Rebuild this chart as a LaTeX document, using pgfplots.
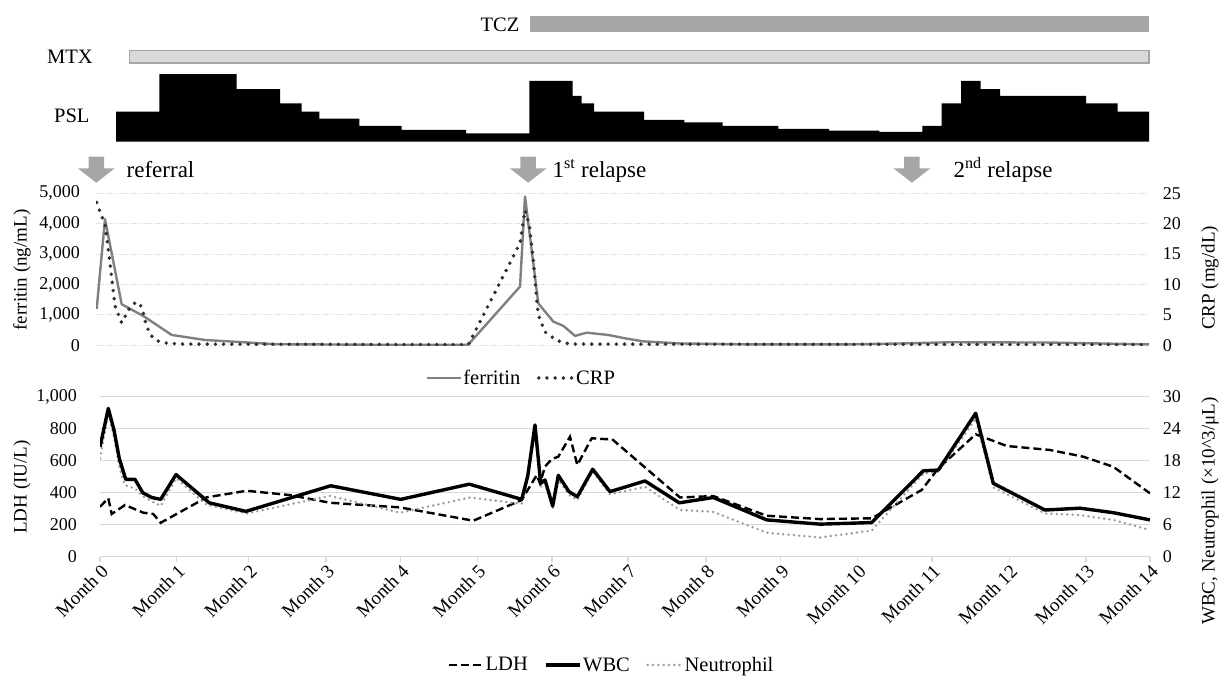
\documentclass[border=0pt]{standalone}
\usepackage{pgfplots}
\pgfplotsset{compat=1.18}
\usepackage{fontspec}
\setmainfont{Liberation Serif}
\definecolor{gridgray}{HTML}{D9D9D9}
\definecolor{tczgray}{HTML}{A6A6A6}
\definecolor{mtxfill}{HTML}{D9D9D9}
\definecolor{mtxdraw}{HTML}{A6A6A6}
\definecolor{arrowgray}{HTML}{A6A6A6}
\definecolor{ferrgray}{HTML}{808080}
\definecolor{crpdot}{HTML}{303030}
\definecolor{neugray}{HTML}{9A9A9A}
\newcommand\fs[1]{\fontsize{#1}{#1}\selectfont}
\tikzset{
 ldh/.style={black, line width=2.4pt, dash pattern=on 8pt off 4pt},
 wbc/.style={black, line width=3.4pt, line join=round},
 neu/.style={neugray, line width=2.7pt, line cap=round, dash pattern=on 0pt off 5.3pt},
 ferr/.style={ferrgray, line width=2.4pt, line join=round},
 crp/.style={crpdot, line width=3.9pt, line cap=round, dash pattern=on 0pt off 8.2pt},
}
\newcommand\garrow[1]{%
 \begin{scope}[shift={(#1pt,0pt)}]
 \fill[arrowgray] (-7.75pt,520.3pt) -- (7.75pt,520.3pt) -- (7.75pt,508.7pt) -- (18.5pt,508.7pt) -- (0pt,494.3pt) -- (-18.5pt,508.7pt) -- (-7.75pt,508.7pt) -- cycle;
 \end{scope}}
\pgfplotsset{
 myleg/.style={legend columns=-1,
  legend style={draw=none, fill=none, font=\fs{20.5}, nodes={inner sep=1.5pt},
   /tikz/every even column/.append style={column sep=15pt}},
  legend image code/.code={\draw[##1] (0pt,0pt) -- (34pt,0pt);}},
 /pgf/number format/assume math mode=true,
 /pgf/number format/1000 sep={,},
}
\begin{document}
\begin{tikzpicture}
\path[use as bounding box] (0pt,0pt) rectangle (1219pt,677pt);

% ---------- treatment bars ----------
\begin{axis}[at={(100pt,535.3pt)}, anchor=south west, scale only axis,
 width=1050pt, height=131.7pt, xmin=100, xmax=1150, ymin=0, ymax=87.8,
 hide axis, clip=false]
\addplot[draw=none, fill=tczgray] coordinates {(530,72.9) (1148.8,72.9) (1148.8,83.8) (530,83.8)} -- cycle;
\addplot[draw=mtxdraw, line width=1.5pt, fill=mtxfill] coordinates {(129.6,52.3) (1148.8,52.3) (1148.8,60.7) (129.6,60.7)} -- cycle;
\addplot[const plot, fill=black, draw=none] coordinates {
(116,0) (116,20) (159.3,45) (236.7,35) (280,25.5) (301.7,20) (319.3,15.3)
(359.3,10.5) (401.7,7.8) (466,5.5) (529.3,40.5) (572.7,30.5) (581.7,25.5)
(594,20) (644,14.5) (684.3,12.9) (722.7,10.5) (778.3,8.5) (829,7.3)
(879.3,6.5) (922.3,10.5) (941.7,25.5) (961,40.5) (980.7,35) (1000,30.5)
(1086,25.5) (1117.7,20) (1149,20) (1149,0)} \closedcycle;
\end{axis}

\node[anchor=base east, inner sep=0pt, font=\fs{20.5}] at (519.5pt,645.3pt) {TCZ};
\node[anchor=base west, inner sep=0pt, font=\fs{20.5}] at (47pt,613pt) {MTX};
\node[anchor=base west, inner sep=0pt, font=\fs{20.5}] at (54pt,554.3pt) {PSL};

\garrow{96.3}
\garrow{528.2}
\garrow{911.9}
\node[anchor=base west, inner sep=0pt, font=\fs{23}] at (126.5pt,499.5pt) {referral};
\node[anchor=base west, inner sep=0pt, font=\fs{23}] at (552.5pt,499.5pt) {1\textsuperscript{st} relapse};
\node[anchor=base west, inner sep=0pt, font=\fs{23}] at (953.3pt,499.5pt) {2\textsuperscript{nd} relapse};

% ---------- ferritin / CRP ----------
\begin{axis}[at={(96pt,331.7pt)}, anchor=south west, scale only axis,
 width=1053pt, height=152pt, xmin=96, xmax=1149, ymin=0, ymax=5000,
 ytick={0,1000,2000,3000,4000,5000}, xtick=\empty,
 axis x line*=bottom, axis y line*=left,
 x axis line style={draw=none}, y axis line style={draw=none},
 ytick style={draw=none}, major tick length=0pt,
 ymajorgrids, major grid style={gridgray, line width=0.9pt, dash pattern=on 1.2pt off 1.2pt},
 yticklabel style={font=\fs{18}, anchor=east, inner sep=0pt, xshift=-16pt}]
\addplot[ferr] coordinates {
(96.7,1200) (105,4150) (121.7,1350) (143.3,965) (171.7,340) (205,175)
(276.7,35) (400,15) (468,15) (520,1930) (525,4890) (538.3,1380) (553.3,780)
(563.3,640) (575,310) (586.7,415) (608.3,340) (625,230) (643,130) (680,60)
(750,30) (850,30) (900,60) (950,100) (1050,90) (1100,60) (1149,30)};
\end{axis}
\begin{axis}[at={(96pt,331.7pt)}, anchor=south west, scale only axis,
 width=1053pt, height=152pt, xmin=96, xmax=1149, ymin=0, ymax=25,
 ytick={0,5,10,15,20,25}, xtick=\empty,
 axis y line*=right, axis x line=none, y axis line style={draw=none},
 ytick style={draw=none}, major tick length=0pt,
 yticklabel style={font=\fs{18}, anchor=west, inner sep=0pt, xshift=13.6pt},
 myleg, legend style={at={(axis description cs:0.4036,-0.215)}, anchor=center}]
\addlegendimage{ferr}\addlegendentry{ferritin}
\addplot[crp] coordinates {
(96.7,23.5) (101,21.5) (105,20.0) (110,13.5) (115,6.5) (121.7,3.7) (125.3,4.8)
(130.4,6.4) (136.2,7.1) (140,6.8) (143,5.5) (146,3.5) (150,1.8) (156,0.8)
(165,0.4) (180,0.2) (468.3,0.1) (520,16.8) (525,22.2) (529.3,19.8) (533.3,14.0)
(536.7,7.5) (538.3,5.0) (545,2.2) (556.7,0.8) (570,0.2) (1149,0.1)};
\addlegendentry{CRP}
\end{axis}
\node[rotate=90, font=\fs{19}] at (22pt,407pt) {ferritin (ng/mL)};
\node[rotate=90, font=\fs{19}] at (1210pt,399pt) {CRP (mg/dL)};

% ---------- LDH / WBC / Neutrophil ----------
\begin{axis}[at={(100pt,120.3pt)}, anchor=south west, scale only axis,
 width=1050pt, height=160pt, xmin=100, xmax=1150, ymin=0, ymax=1000,
 ytick={0,200,400,600,800,1000},
 xtick={100,176.7,248.7,326,400.7,477.3,552,628,706,780.7,857.7,932,1009.3,1086,1150},
 xticklabels={Month 0,Month 1,Month 2,Month 3,Month 4,Month 5,Month 6,Month 7,Month 8,Month 9,Month 10,Month 11,Month 12,Month 13,Month 14},
 axis x line*=bottom, axis y line*=left,
 x axis line style={gridgray, line width=1.3pt}, y axis line style={draw=none},
 xtick style={gridgray, line width=1.3pt}, ytick style={draw=none},
 tick align=outside, major tick length=5pt,
 ymajorgrids, major grid style={gridgray, line width=1.3pt},
 yticklabel style={font=\fs{18}, anchor=east, inner sep=0pt, xshift=-18pt},
 xticklabel style={font=\fs{19}, rotate=45, anchor=north east, inner sep=1pt}]
\addplot[ldh] coordinates {
(100,312) (108.3,365) (111.7,267) (125,323) (143.3,275) (153.3,267) (160.7,212)
(206.7,371) (246.7,412) (290,385) (330,337) (400,308) (473.3,225) (521.7,354)
(536.7,510) (540,458) (545,563) (551.7,610) (558.3,625) (570,750) (577.3,573)
(591.7,740) (605,735) (612,735) (680,370) (713.3,379) (766.7,256) (820,235)
(871.7,240) (921.7,417) (938.3,552) (975.7,765) (1006.7,692) (1050,667)
(1083.3,625) (1113.3,562) (1150,396)};
\end{axis}
\begin{axis}[at={(100pt,120.3pt)}, anchor=south west, scale only axis,
 width=1050pt, height=160pt, xmin=100, xmax=1150, ymin=0, ymax=30,
 ytick={0,6,12,18,24,30}, xtick=\empty,
 axis y line*=right, axis x line=none, y axis line style={draw=none},
 ytick style={draw=none}, major tick length=0pt,
 yticklabel style={font=\fs{18}, anchor=west, inner sep=0pt, xshift=12.6pt},
 myleg, legend style={at={(axis description cs:0.487,-0.677)}, anchor=center}]
\addlegendimage{ldh}\addlegendentry{LDH}
\addlegendimage{wbc}\addlegendentry{WBC}
\addlegendimage{neu}\addlegendentry{Neutrophil}
\addplot[neu, forget plot] coordinates {
(100,18.4) (108.3,26.9) (114,22.5) (120,16.25) (125,13.4) (135,12.8) (143.3,11.25)
(160.7,9.5) (176,14.7) (206.7,9.7) (246.7,8.1) (330,11.4) (400,8.25) (470,11.1)
(521.7,9.9) (527.7,14.5) (535,23.75) (540.7,13.1) (545,13.8) (552.7,9.1)
(558.3,14.4) (569,11.6) (577.3,10.6) (592.7,15.9) (610,11.7) (645,13.1)
(680,8.75) (713.3,8.4) (766.7,4.5) (820,3.6) (871.7,4.9) (923.3,15.6)
(938.3,15.9) (975.7,25.9) (993.3,13.0) (1045,8.1) (1080,7.8) (1113.3,6.9) (1150,5.0)};
\addplot[wbc, forget plot] coordinates {
(100,20.6) (108.3,27.8) (114,23.75) (119.3,18.4) (125.7,14.5) (135,14.5)
(142.7,12.0) (151.7,11.1) (160.7,10.75) (176,15.4) (209.3,10.1) (246,8.5)
(330.7,13.3) (400.7,10.75) (469.3,13.6) (521.7,10.75) (527.7,15.1) (535,24.7)
(540.7,13.75) (545,14.4) (552.7,9.5) (558.3,15.25) (569,12.2) (577.3,11.25)
(592.7,16.4) (610,12.2) (645,14.2) (679.3,10.1) (713.3,11.1) (766.7,6.9)
(820,6.1) (871.7,6.4) (923.3,16.1) (938.3,16.25) (975.7,26.9) (993.3,13.75)
(1045,8.75) (1080,9.1) (1113.3,8.25) (1150,6.9)};
\end{axis}
\node[rotate=90, font=\fs{19}] at (22pt,190pt) {LDH (IU/L)};
\node[rotate=90, font=\fs{19}] at (1210pt,166pt) {WBC, Neutrophil (×10\textasciicircum 3/μL)};
\end{tikzpicture}
\end{document}
